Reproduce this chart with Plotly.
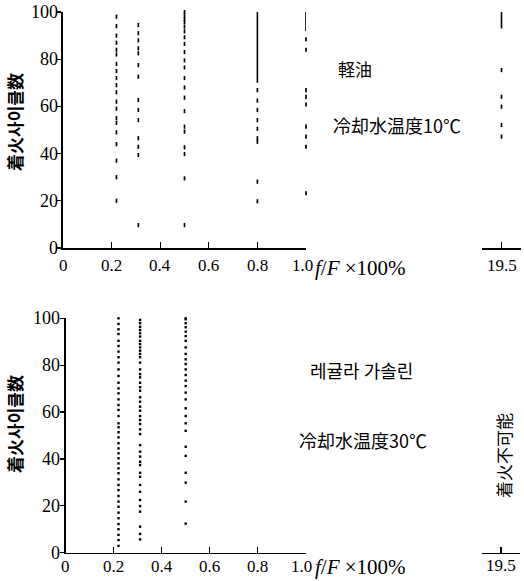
import plotly.graph_objects as go

# ---------------- data ----------------
# Upper panel: 軽油, 冷却水温度10℃
top_f = [0.22, 0.31, 0.50, 0.80, 1.00]
top_c1 = [98, 94, 90, 87, 84, 82, 78, 75, 72, 69, 66, 62, 59, 55, 53, 49, 44, 37, 30, 20]
top_c2 = [94.5, 91, 88, 84.6, 82.5, 77.5, 72.6, 62.7, 58.5, 54.2, 46.5, 42.9, 39.4, 9.7]
top_c3 = [100, 98.5, 97, 95.7, 93.8, 91.8, 89.3, 86.5, 83, 79.5, 76.5, 72, 68, 63.7,
          58, 51.4, 49.3, 42.7, 39.8, 29.5, 9.7]
top_c4 = [66.9, 62.5, 58.5, 54.2, 50.5, 46.5, 45, 28.1, 19.8]
top_c5 = [88.4, 84, 66.9, 64, 60.8, 51.4, 47.2, 42.9, 23.2]
top_counts = [top_c1, top_c2, top_c3, top_c4, top_c5]
# continuous (solid) stretches of points
top_solid_f = [0.80, 1.00]
top_solid_lo = [70, 92]
top_solid_hi = [101.5, 101.5]

# Upper right: f/F = 19.5
right_f = [19.5]
right_counts = [[75.4, 64.1, 59.9, 52.1, 47.2]]
right_solid_lo = [93]
right_solid_hi = [101.5]

# Lower panel: 레귤라 가솔린, 冷却水温度30℃
bot_f = [0.22, 0.31, 0.50]
bot_c1 = [100, 97.6, 95.3, 93.3, 90.4, 88.2, 85.8, 83.4, 81.1, 78.2, 75.4, 72.5, 70.1, 68,
          65.4, 63, 60.9, 58.3, 55.2, 53.5, 51.4, 49.2, 46.7, 44.5, 42.4, 40.3, 38.1, 36,
          33.9, 31.3, 28.9, 26.7, 24.2, 21.8, 19.6, 17.1, 14.7, 12.2, 10, 7.6, 5.4, 2.9]
bot_c2 = [99.3, 97.9, 96.4, 95, 93.6, 92.2, 90.4, 89, 87.6, 86.2, 84.8, 83.4, 81.1, 78.2,
          76.2, 74.8, 72.5, 70.6, 69.1, 66.3, 64.4, 62.3, 60.6, 58.3, 56.6, 54.9, 52.6,
          50.6, 45.9, 43.1, 41, 38.8, 37.4, 34.1, 32.4, 28.9, 26, 22.5, 19.9, 17.5, 11.1,
          8, 5.7]
bot_c3 = [100, 99.6, 97.9, 96.2, 94.3, 92.4, 90.4, 87.6, 84.8, 82.5, 80.5, 78.2, 75.8,
          73.4, 71.1, 68.3, 65.4, 61.6, 58.3, 55.2, 52, 45.2, 41.3, 34.1, 29.9, 21.8, 12.4]
bot_counts = [bot_c1, bot_c2, bot_c3]

x_ticks = [0, 0.2, 0.4, 0.6, 0.8, 1.0]
x_ticktext = ["0", "0.2", "0.4", "0.6", "0.8", "1.0"]
r_ticks = [19.5]
r_ticktext = ["19.5"]
y_ticks = [0, 20, 40, 60, 80, 100]
y_ticktext = ["0", "20", "40", "60", "80", "100"]

# ---------------- figure ----------------
W, H = 524, 581
fig = go.Figure()

def add_points(fs, counts, xa, ya, symbol, size, lw):
    for f, cs in zip(fs, counts):
        fig.add_trace(go.Scatter(
            x=[f] * len(cs), y=cs, mode="markers", xaxis=xa, yaxis=ya,
            marker=dict(symbol=symbol, size=size, color="black",
                        line=dict(color="black", width=lw)),
            cliponaxis=False, showlegend=False, hoverinfo="skip"))

def add_solid(fs, lo, hi, xa, ya):
    for f, a, b in zip(fs, lo, hi):
        fig.add_trace(go.Scatter(
            x=[f, f], y=[a, b], mode="lines", xaxis=xa, yaxis=ya,
            line=dict(color="black", width=1.6),
            cliponaxis=False, showlegend=False, hoverinfo="skip"))

add_points(top_f, top_counts, "x", "y", "line-ns", 3, 1.7)
add_solid(top_solid_f, top_solid_lo, top_solid_hi, "x", "y")
add_points(right_f, right_counts, "x2", "y2", "line-ns", 3, 1.7)
add_solid(right_f, right_solid_lo, right_solid_hi, "x2", "y2")
add_points(bot_f, bot_counts, "x3", "y3", "square", 2.4, 0)

def px(v):
    return v / W

def py(v):
    return 1 - v / H

SERIF = "Liberation Serif"
cjk = "Noto Sans CJK JP"

top_dom = [py(248), py(12)]
bot_dom = [py(552.7), py(318.3)]

fig.update_layout(
    width=W, height=H, margin=dict(l=0, r=0, t=0, b=0),
    paper_bgcolor="white", plot_bgcolor="white",
    font=dict(family=SERIF, size=17, color="black"),
    xaxis=dict(domain=[px(63), px(306)], range=[0, 1.0], anchor="y", tickvals=x_ticks),
    yaxis=dict(domain=top_dom, range=[0, 100], anchor="x", tickvals=y_ticks),
    xaxis2=dict(domain=[px(482), px(521)], range=[19.2, 19.8], anchor="y2",
                tickvals=r_ticks),
    yaxis2=dict(domain=top_dom, range=[0, 100], anchor="x2", visible=False),
    xaxis3=dict(domain=[px(65.7), px(305.7)], range=[0, 1.0], anchor="y3",
                tickvals=x_ticks),
    yaxis3=dict(domain=bot_dom, range=[0, 100], anchor="x3", tickvals=y_ticks),
    xaxis4=dict(domain=[px(482), px(520)], range=[19.2, 19.8], anchor="y4",
                tickvals=r_ticks),
    yaxis4=dict(domain=bot_dom, range=[0, 100], anchor="x4", visible=False),
)

fig.update_xaxes(showline=True, linecolor="black", linewidth=1.6, ticks="inside",
                 ticklen=6, tickwidth=1.3, tickcolor="black", showgrid=False,
                 zeroline=False, fixedrange=True, showticklabels=False)
fig.update_yaxes(showline=True, linecolor="black", linewidth=2, ticks="outside",
                 ticklen=4, tickwidth=1.3, tickcolor="black", showgrid=False,
                 zeroline=False, fixedrange=True, showticklabels=False)

def note(text, x, y, size=17, angle=0, family=cjk, xanchor="center",
         xref="paper", yref="paper", xshift=0):
    fig.add_annotation(text=text, x=x, y=y, xref=xref, yref=yref,
                       showarrow=False, textangle=angle, xanchor=xanchor,
                       yanchor="middle", xshift=xshift,
                       font=dict(family=family, size=size, color="black"))

# tick labels (serif), placed on the axes' own scales
for v, t in zip(x_ticks, x_ticktext):
    sh = -4 if v == 1.0 else 0
    note(t, v, py(266), size=17, family=SERIF, xref="x", xshift=sh)
    note(t, v, py(566), size=17, family=SERIF, xref="x3", xshift=sh)
for v, t in zip(r_ticks, r_ticktext):
    note(t, v, py(265), size=17, family=SERIF, xref="x2")
    note(t, v, py(565), size=17, family=SERIF, xref="x4")
for v, t in zip(y_ticks, y_ticktext):
    note(t, px(60), v, size=18, family=SERIF, xanchor="right", yref="y")
    note(t, px(62), v, size=18, family=SERIF, xanchor="right", yref="y3")

# y-axis titles
note("<b>着火사이클数</b>", px(14), py(122), size=17, angle=-90)
note("<b>着火사이클数</b>", px(14), py(424), size=17, angle=-90)
# x-axis title pieces
note("<i>f</i>/<i>F</i> ×100%", px(313), py(268), size=21, family=SERIF, xanchor="left")
note("<i>f</i>/<i>F</i> ×100%", px(313), py(567), size=21, family=SERIF, xanchor="left")
# panel labels
note("軽油", px(355), py(68), size=17)
note("冷却水温度10℃", px(397), py(125), size=18)
note("레귤라 가솔린", px(361), py(370), size=18)
note("冷却水温度30℃", px(363), py(440), size=18)
note("着火不可能", px(503), py(456), size=17, angle=-90)

fig.write_html(
    "out.html",
    config={"displayModeBar": False, "staticPlot": True},
    post_script="document.body.style.margin='0px';document.body.style.overflow='hidden';",
)
